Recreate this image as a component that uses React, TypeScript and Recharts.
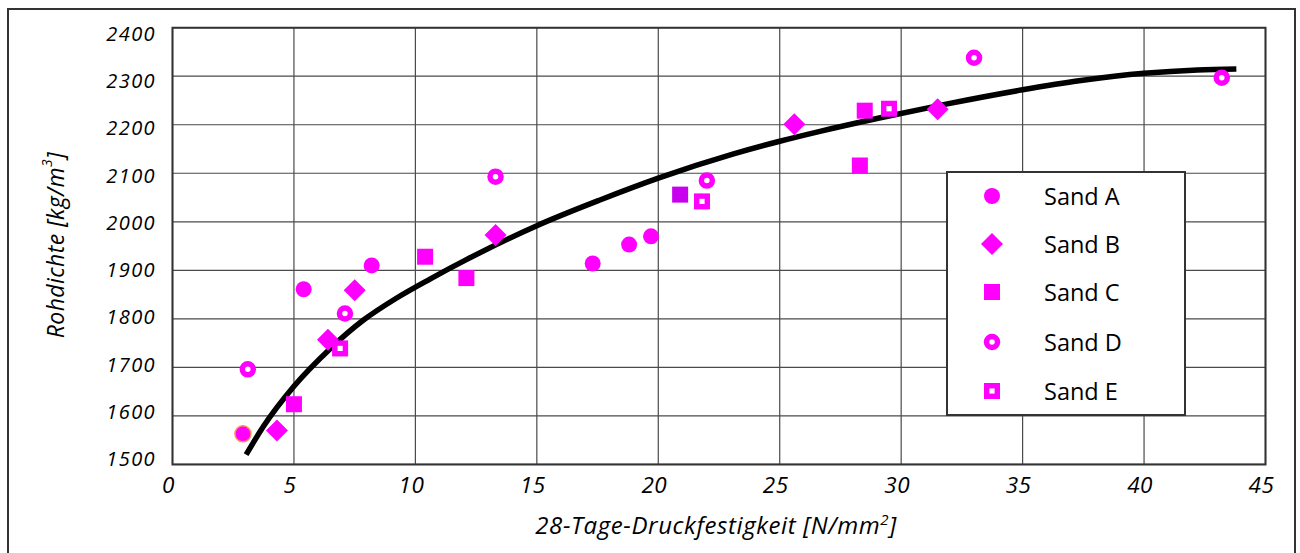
import React from 'react';
import {
  ScatterChart, Scatter, XAxis, YAxis, CartesianGrid, ReferenceArea, Legend, Cell,
} from 'recharts';

const xTicks = [0, 5, 10, 15, 20, 25, 30, 35, 40, 45];
const yTicks = [1500, 1600, 1700, 1800, 1900, 2000, 2100, 2200, 2300, 2400];

const sandA = [
  { x: 2.9, y: 1563 }, { x: 5.4, y: 1861 }, { x: 8.2, y: 1910 },
  { x: 17.3, y: 1914 }, { x: 18.8, y: 1953 }, { x: 19.7, y: 1970 },
];
const sandB = [
  { x: 4.3, y: 1570 }, { x: 6.4, y: 1757 }, { x: 7.5, y: 1859 },
  { x: 13.3, y: 1973 }, { x: 25.6, y: 2201 }, { x: 31.5, y: 2232 },
];
const sandC = [
  { x: 5.0, y: 1624 }, { x: 10.4, y: 1928 }, { x: 12.1, y: 1884 },
  { x: 20.9, y: 2056 }, { x: 28.3, y: 2116 }, { x: 28.5, y: 2229 },
];
const sandD = [
  { x: 3.1, y: 1696 }, { x: 7.1, y: 1811 }, { x: 13.3, y: 2093 },
  { x: 22.0, y: 2085 }, { x: 33.0, y: 2338 }, { x: 43.2, y: 2297 },
];
const sandE = [
  { x: 6.9, y: 1739 }, { x: 21.8, y: 2042 }, { x: 29.5, y: 2233 },
];
const fitCurve = [
  { x: 3.03, y: 1520 }, { x: 3.74, y: 1578 }, { x: 5.0, y: 1661 }, { x: 6.48, y: 1738 },
  { x: 7.85, y: 1797 }, { x: 9.23, y: 1843 }, { x: 10.6, y: 1882 }, { x: 12.1, y: 1922 },
  { x: 15.0, y: 1992 }, { x: 17.6, y: 2045 }, { x: 20.0, y: 2090 }, { x: 23.1, y: 2140 },
  { x: 25.0, y: 2166 }, { x: 26.7, y: 2187 }, { x: 29.1, y: 2214 }, { x: 31.9, y: 2243 },
  { x: 35.0, y: 2272 }, { x: 37.4, y: 2291 }, { x: 40.0, y: 2306 }, { x: 42.2, y: 2313 },
  { x: 43.8, y: 2315 },
];

const seriesNames = ['Sand A', 'Sand B', 'Sand C', 'Sand D', 'Sand E'];
const MAGENTA = '#ff00ff';
const FONT = '"Open Sans", sans-serif';

const DotShape = (p: any) => (
  <circle cx={p.cx} cy={p.cy} r={8} fill={p.fill} stroke={p.stroke || 'none'} strokeWidth={1.5} />
);
const DiamondShape = (p: any) => (
  <polygon
    points={`${p.cx},${p.cy - 11} ${p.cx + 11},${p.cy} ${p.cx},${p.cy + 11} ${p.cx - 11},${p.cy}`}
    fill={p.fill}
  />
);
const SquareShape = (p: any) => (
  <rect x={p.cx - 8} y={p.cy - 8} width={16} height={16} fill={p.fill} />
);
const RingShape = (p: any) => (
  <circle cx={p.cx} cy={p.cy} r={5.5} fill="#fff" stroke={p.fill} strokeWidth={5.5} />
);
const OpenSquareShape = (p: any) => (
  <rect x={p.cx - 5.3} y={p.cy - 5.3} width={10.6} height={10.6} fill="#fff" stroke={p.fill} strokeWidth={5.4} />
);
const NoShape = () => <g />;

const shapes = [DotShape, DiamondShape, SquareShape, RingShape, OpenSquareShape];

const YTick = (p: any) => {
  const v = p.payload.value;
  const shift = 6.3 - ((2400 - v) / 100) * 1.3;
  return (
    <text x={p.x - 16.5} y={p.y + shift + 7} textAnchor="end" fontFamily={FONT}
      fontStyle="italic" fontSize={20} letterSpacing={1.4} fill="#000">
      {v}
    </text>
  );
};

const XTick = (p: any) => (
  <text x={p.x - 4} y={p.y + 28.8} textAnchor="middle" fontFamily={FONT}
    fontStyle="italic" fontSize={22.5} letterSpacing={0.5} fill="#000">
    {p.payload.value}
  </text>
);

const XLabel = (p: any) => {
  const vb = p.viewBox || { x: 0, y: 0, width: 0, height: 0 };
  return (
    <text x={vb.x + vb.width / 2 - 3} y={vb.y + 69.8} textAnchor="middle" fontFamily={FONT}
      fontStyle="italic" fontSize={24} letterSpacing={0.6} fill="#000">
      28-Tage-Druckfestigkeit [N/mm
      <tspan fontSize={15} dy={-9}>2</tspan>
      <tspan dy={9}>]</tspan>
    </text>
  );
};

const YLabel = (p: any) => {
  const vb = p.viewBox || { x: 0, y: 0, width: 0, height: 0 };
  const cx = vb.x + 55;
  const cy = vb.y + vb.height / 2 - 1;
  return (
    <text x={cx} y={cy} transform={`rotate(-90, ${cx}, ${cy})`} textAnchor="middle"
      dominantBaseline="central" fontFamily={FONT} fontStyle="italic" fontSize={23}
      letterSpacing={0.4} fill="#000">
      Rohdichte [kg/m
      <tspan fontSize={14} dy={-9}>3</tspan>
      <tspan dy={9}>]</tspan>
    </text>
  );
};

const legendRowsY = [25, 73.3, 121, 171, 220];

const LegendMarker = ({ index }: { index: number }) => {
  const Shape = shapes[index];
  return (
    <svg width={30} height={30} style={{ position: 'absolute', left: 28.5, top: -15 }}>
      <Shape cx={15} cy={15} fill={MAGENTA} />
    </svg>
  );
};

const LegendBox = () => (
  <div style={{
    position: 'relative', width: 240, height: 245, boxSizing: 'border-box',
    border: '2px solid #333', background: '#fff', fontFamily: FONT,
  }}>
    {seriesNames.map((name, i) => (
      <div key={name} style={{ position: 'absolute', left: 0, top: legendRowsY[i] - 2, width: '100%' }}>
        <LegendMarker index={i} />
        <span style={{
          position: 'absolute', left: 96, top: -17, fontSize: 23.5, lineHeight: '34px',
          color: '#000', whiteSpace: 'nowrap',
        }}>{name}</span>
      </div>
    ))}
  </div>
);

export default function App() {
  return (
    <div style={{ position: 'absolute', left: 0, top: 0, width: 1300, height: 553, overflow: 'hidden', background: '#fff' }}>
      <div style={{
        position: 'absolute', left: 7, top: 8, width: 1289, height: 700, boxSizing: 'border-box',
        border: '2px solid #333',
      }} />
      <div style={{ position: 'absolute', left: 0, top: 0 }}>
        <ScatterChart width={1300} height={553} margin={{ top: 27.7, right: 34.5, bottom: 0, left: 0 }}>
          <CartesianGrid stroke="#4a4a4a" strokeWidth={1.2} horizontalValues={yTicks} verticalValues={xTicks} />
          <XAxis type="number" dataKey="x" domain={[0, 45]} ticks={xTicks} height={88.6}
            axisLine={false} tickLine={false} tickSize={0} tickMargin={0} tick={<XTick />}
            label={<XLabel />} allowDataOverflow />
          <YAxis type="number" dataKey="y" domain={[1500, 2400]} ticks={yTicks} width={172.5}
            axisLine={false} tickLine={false} tickSize={0} tickMargin={0} tick={<YTick />}
            label={<YLabel />} allowDataOverflow />
          <ReferenceArea x1={0} x2={45} y1={1500} y2={2400} fill="none" fillOpacity={0}
            stroke="#333" strokeWidth={2} />
          <Legend layout="vertical" align="center" verticalAlign="middle"
            wrapperStyle={{ left: 946, top: 171, width: 240, height: 245 }}
            content={() => <LegendBox />} />
          <Scatter name="Fit" data={fitCurve} fill="#000" shape={<NoShape />} legendType="none"
            line={{ stroke: '#000', strokeWidth: 5.5 }} lineJointType="monotoneX" isAnimationActive={false} />
          <Scatter name="Sand A" data={sandA} fill={MAGENTA} shape={<DotShape />} isAnimationActive={false}>
            {sandA.map((d, i) => (
              <Cell key={i} fill={MAGENTA} stroke={i === 0 ? '#ff8a5a' : undefined} />
            ))}
          </Scatter>
          <Scatter name="Sand B" data={sandB} fill={MAGENTA} shape={<DiamondShape />} isAnimationActive={false} />
          <Scatter name="Sand C" data={sandC} fill={MAGENTA} shape={<SquareShape />} isAnimationActive={false}>
            {sandC.map((d, i) => (
              <Cell key={i} fill={i === 3 ? '#c800f0' : MAGENTA} />
            ))}
          </Scatter>
          <Scatter name="Sand D" data={sandD} fill={MAGENTA} shape={<RingShape />} isAnimationActive={false} />
          <Scatter name="Sand E" data={sandE} fill={MAGENTA} shape={<OpenSquareShape />} isAnimationActive={false} />
        </ScatterChart>
      </div>
    </div>
  );
}
